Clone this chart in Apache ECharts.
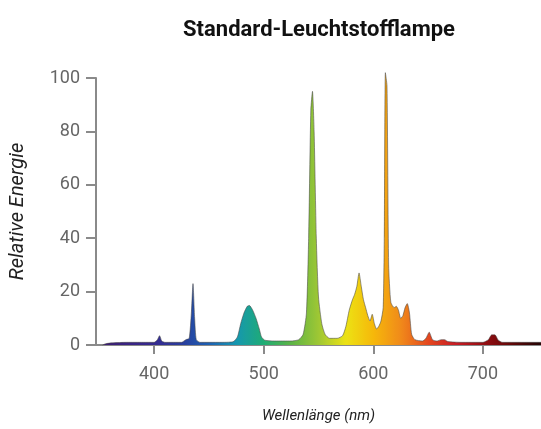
<!DOCTYPE html>
<html>
<head>
<meta charset="utf-8">
<script src="https://cdn.jsdelivr.net/npm/echarts@6/dist/echarts.min.js"></script>
<style>html,body{margin:0;padding:0;background:#fff}#c{width:541px;height:429px}</style>
</head>
<body>
<div id="c"></div>
<script>
var titleText = 'Standard-Leuchtstofflampe';
var xName = 'Wellenlänge (nm)';
var yName = 'Relative Energie';
var xTicks = [400, 500, 600, 700];
var yTicks = [0, 20, 40, 60, 80, 100];

var wavelengths = [353,356,362,375,390,400,403,405,407,410,425,429,432,434,435.5,437,438.5,442,460,472,476,479,482,485,487,490,493,496,498,501,510,525,532,536,539,541,543,544.5,546,548,550,553,556,560,567,572,575,578,581,583,585,587,589,591,593,595,597,599,601,603,605,607,609,610,611,612.5,614,616,619,621,623,625,627,629,631,633,635,638,645,648,651,654,658,662,665,668,680,700,705,708,711,714,718,740,753];
var energy =      [0,0.5,0.8,1.0,1.0,1.0,2.0,3.5,1.5,1.0,1.0,2.0,2.5,12,23,10,2.0,1.0,1.0,1.2,3,8,12,14.5,14.8,13,10,6,3,1.8,1.5,1.5,2,4,12,40,88,95,80,40,18,8,4,2.5,2.5,3.5,7,13,17,19,22,27,22,17,14,11,9,11.5,8,6,7,9,14,40,102,97,30,16,14,14.5,13,10,11,14,15.5,12,4,2,1.5,2.5,4.8,2,1.5,2,2,1.3,1.0,1.0,2,3.8,3.8,1.8,1.0,1.0,1.0];

var spectrumColors = ['#3b1c6e','#3a2382','#352a8f','#2a3c9c','#1d60b2','#1597b0','#1fac74','#5cb446','#9ec734','#ece214','#f6b80a','#f08a1a','#e4481f','#c81c24','#960d12','#640808','#2a0505'];

var series = wavelengths.map(function(w, i){ return [w, energy[i]]; });

var chart = echarts.init(document.getElementById('c'));
chart.setOption({
  animation: false,
  title: {
    text: titleText, left: 314, top: 14, textAlign: 'center',
    textStyle: {fontFamily: 'Roboto', fontWeight: 'bold', fontSize: 22, color: '#111'}
  },
  grid: {left: 88, right: 0, top: 78, bottom: 74, containLabel: false},
  visualMap: {
    show: false, type: 'continuous', dimension: 0, seriesIndex: 0,
    min: 350, max: 750, inRange: {color: spectrumColors}
  },
  xAxis: {
    type: 'value', min: 347, max: 753,
    name: xName, nameLocation: 'middle', nameGap: 64,
    nameTextStyle: {fontFamily: 'Roboto', fontStyle: 'italic', fontSize: 15, color: '#222'},
    axisLine: {show: true, lineStyle: {color: '#8a8a8a', width: 2}},
    axisTick: {show: true, customValues: xTicks, length: 9, lineStyle: {color: '#8a8a8a', width: 2}},
    axisLabel: {customValues: xTicks, margin: 20, fontFamily: 'Roboto', fontSize: 18, color: '#666'},
    splitLine: {show: false}
  },
  yAxis: {
    type: 'value', min: 0, max: 100, interval: 20,
    name: yName, nameLocation: 'middle', nameGap: 68, nameRotate: 90,
    nameTextStyle: {fontFamily: 'Roboto', fontStyle: 'italic', fontSize: 20, color: '#222'},
    axisLine: {show: true, lineStyle: {color: '#8a8a8a', width: 2}},
    axisTick: {show: true, inside: false, length: 10, lineStyle: {color: '#8a8a8a', width: 2}},
    axisLabel: {margin: 16, fontFamily: 'Roboto', fontSize: 18, color: '#666'},
    splitLine: {show: false}
  },
  series: [{
    type: 'line', data: series, showSymbol: false, symbol: 'none', clip: false,
    smooth: 0.2,
    lineStyle: {color: 'rgba(70,70,70,0.55)', width: 1},
    areaStyle: {opacity: 1},
    z: 3
  }]
});
</script>
</body>
</html>
